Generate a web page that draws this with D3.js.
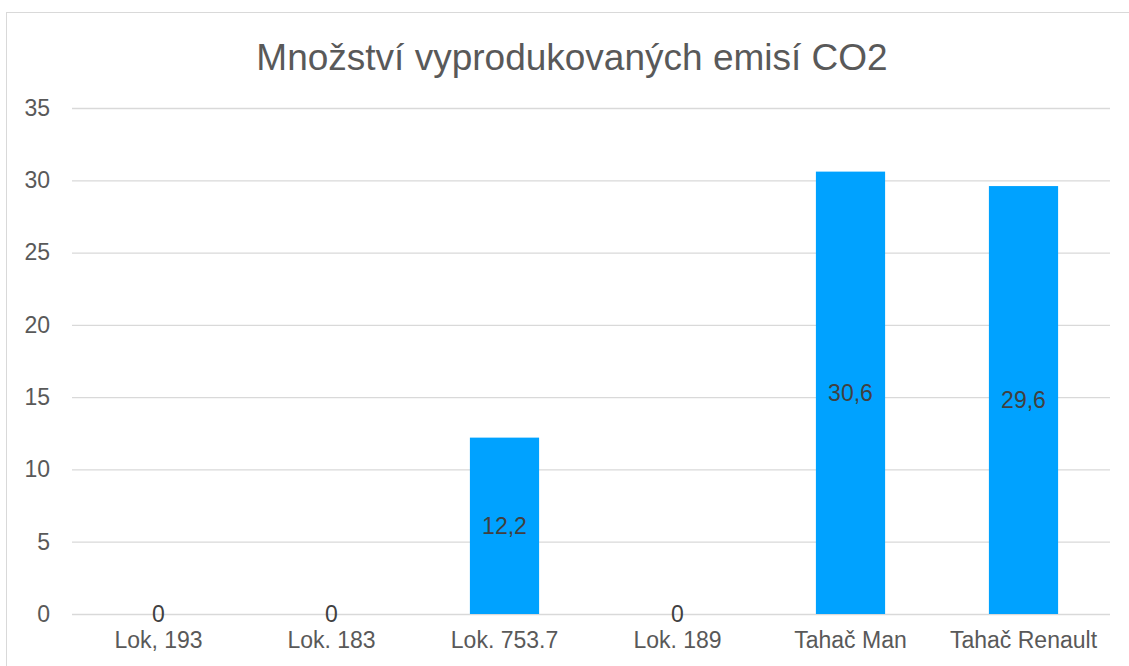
<!DOCTYPE html>
<html>
<head>
<meta charset="utf-8">
<script src="https://cdn.jsdelivr.net/npm/d3@7"></script>
<style>
  body { margin: 0; background: #fff; }
  svg { font-family: "Liberation Sans", Arial, sans-serif; }
</style>
</head>
<body>
<svg id="drawing_region"></svg>
<script>
const categories = ['Lok, 193', 'Lok. 183', 'Lok. 753.7', 'Lok. 189', 'Tahač Man', 'Tahač Renault'];
const values = [0, 0, 12.2, 0, 30.6, 29.6];
const valueLabels = ['0', '0', '12,2', '0', '30,6', '29,6'];
const yTicks = [0, 5, 10, 15, 20, 25, 30, 35];
const title = 'Množství vyprodukovaných emisí CO2';

const width = 1129, height = 666;
const margin = {top: 108, right: 19, bottom: 52, left: 72};

const svg = d3.select('#drawing_region')
    .attr('width', width)
    .attr('height', height);

// chart frame
svg.append('rect')
    .attr('x', 6.5).attr('y', 12.5)
    .attr('width', 1140).attr('height', 700)
    .attr('fill', 'none')
    .attr('stroke', '#d9d9d9');

const chart = svg.append('g')
    .attr('transform', `translate(${margin.left}, ${margin.top})`);

const inner_width = width - margin.left - margin.right;
const inner_height = height - margin.top - margin.bottom;

const xscale = d3.scaleBand()
    .domain(categories)
    .range([0, inner_width])
    .paddingInner(0.6)
    .paddingOuter(0.3);

const yscale = d3.scaleLinear()
    .domain([0, 35])
    .range([inner_height, 0]);

// gridlines
chart.append('g')
    .selectAll('line')
    .data(yTicks)
    .join('line')
    .attr('x1', 0).attr('x2', inner_width)
    .attr('y1', d => yscale(d) + 0.5).attr('y2', d => yscale(d) + 0.5)
    .attr('stroke', '#d9d9d9')
    .attr('stroke-width', 1.3);

// y axis labels
const yaxis = d3.axisLeft(yscale).tickValues(yTicks).tickSize(0).tickPadding(22);
chart.append('g')
    .call(yaxis)
    .call(g => g.select('.domain').remove())
    .attr('font-size', null)
    .attr('font-family', null)
    .selectAll('text')
    .attr('fill', '#595959')
    .style('font-size', '23px');

// bars
chart.selectAll('.bar')
    .data(values)
    .join('rect')
    .attr('class', 'bar')
    .attr('x', (d, i) => xscale(categories[i]))
    .attr('width', xscale.bandwidth())
    .attr('y', d => yscale(d))
    .attr('height', d => inner_height - yscale(d))
    .attr('fill', '#00a2ff');

// x axis labels
const xaxis = d3.axisBottom(xscale).tickSize(0).tickPadding(18);
chart.append('g')
    .attr('transform', `translate(0, ${inner_height})`)
    .call(xaxis)
    .call(g => g.select('.domain').remove())
    .attr('font-size', null)
    .attr('font-family', null)
    .selectAll('text')
    .attr('fill', '#595959')
    .style('font-size', '23px');

// value labels
chart.selectAll('.vlabel')
    .data(values)
    .join('text')
    .attr('class', 'vlabel')
    .attr('x', (d, i) => xscale(categories[i]) + xscale.bandwidth() / 2)
    .attr('y', d => yscale(d / 2))
    .attr('dy', '0.35em')
    .attr('text-anchor', 'middle')
    .attr('fill', '#404040')
    .style('font-size', '23px')
    .text((d, i) => valueLabels[i]);

// title
svg.append('text')
    .attr('x', 572)
    .attr('y', 70)
    .attr('text-anchor', 'middle')
    .attr('fill', '#595959')
    .style('font-size', '37px')
    .text(title);
</script>
</body>
</html>
